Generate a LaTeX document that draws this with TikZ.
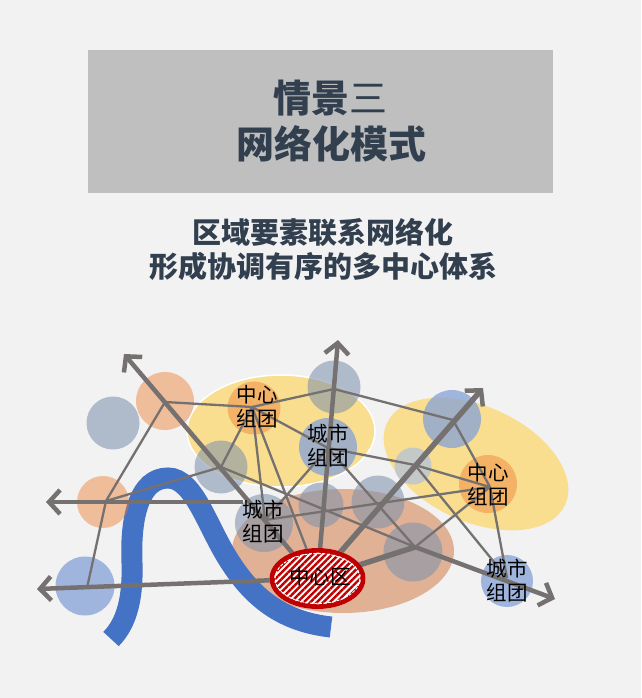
\documentclass[tikz,border=0pt]{standalone}
\usepackage{fontspec}
\setmainfont{Noto Sans CJK SC}
\usetikzlibrary{arrows.meta}
\usetikzlibrary{patterns.meta}
\usetikzlibrary{shapes.geometric}
\definecolor{pagegray}{HTML}{F2F2F2}
\definecolor{bannergray}{HTML}{BFBFBF}
\definecolor{titleink}{HTML}{323F4F}
\definecolor{linkgray}{HTML}{767171}
\definecolor{zoneyellow}{HTML}{F9DE90}
\definecolor{zonebrown}{HTML}{E0B195}
\definecolor{riverblue}{HTML}{4472C4}
\definecolor{slate}{HTML}{7C91AC}
\definecolor{paleslate}{HTML}{BFC7CE}
\definecolor{sky}{HTML}{85A1D7}
\definecolor{peach}{HTML}{ED7D31}
\definecolor{corered}{HTML}{C00000}
\tikzset{
  spot/.style={circle,inner sep=0pt,fill opacity=0.56,minimum size=#1},
  slatespot/.style={spot=#1,fill=slate},
  skyspot/.style={spot=#1,fill=sky,fill opacity=0.75},
  peachspot/.style={spot=#1,fill=peach,fill opacity=0.45},
  axisline/.style={line width=4.5pt,draw=linkgray,-{Straight Barb[length=11pt,width=24pt,line width=4.5pt]}},
  thinlink/.style={line width=2.3pt,draw=linkgray},
  citytext/.style={align=center,text=black,font=\fontsize{20.5}{24}\selectfont},
  heading/.style={align=center,text=titleink,font=\fontsize{#1}{46}\selectfont\bfseries}
}
\begin{document}
\begin{tikzpicture}[x=1pt,y=-1pt]
\useasboundingbox (0,0) rectangle (641,698);
\fill[pagegray] (0,0) rectangle (641,698);
\fill[bannergray] (88,50) rectangle (553,193);

\node [heading=38] (title1) at (330,98) {情景{\mdseries 三}};
\node [heading=38] (title2) at (331,144) {网络化模式};
\node [heading=29] (sub1) at (323,232) {区域要素联系网络化};
\node [heading=29] (sub2) at (323,266) {形成协调有序的多中心体系};

% zones
\fill[zonebrown] (343,551) ellipse [x radius=111,y radius=62];
\draw[fill=zoneyellow,draw=white,line width=1.5pt] (281,431) ellipse [x radius=94,y radius=56];
\fill[zoneyellow,rotate around={-24.5:(476,464)}] (476,464) ellipse [x radius=98,y radius=57.6];

% river
\draw[riverblue,line width=21pt] (111,639) .. controls (128,622) and (133,595) .. (132,563)
  .. controls (130,515) and (140,478) .. (168,478)
  .. controls (195,478) and (208,530) .. (232,565)
  .. controls (255,600) and (285,622) .. (331,627);

% circles
\node [slatespot=53] (s1) at (113,423) {};
\node [peachspot=58] (s2) at (165,401) {};
\node [peachspot=52] (s3) at (103,502) {};
\node [skyspot=59] (s4) at (85,586) {};
\node [peachspot=53] (s5) at (254,408) {};
\node [slatespot=53] (s6) at (221,467) {};
\node [slatespot=53] (s7) at (334,387) {};
\node [skyspot=58] (s8) at (328,447) {};
\node [slatespot=45] (s9) at (321,505) {};
\node [slatespot=53] (s10) at (378,502) {};
\node [slatespot=59] (s11) at (413,552) {};
\node [slatespot=58] (s12) at (264,523) {};
\node [skyspot=58] (s13) at (452,419) {};
\node [spot=37,fill=paleslate,fill opacity=0.9] (s14) at (413,466) {};
\node [peachspot=58] (s15) at (488,484) {};
\node [skyspot=52] (s16) at (507,581) {};

% meeting points of the links
\coordinate (a) at (165,402);
\coordinate (b) at (106,501);
\coordinate (c) at (87,588);
\coordinate (d) at (252,407);
\coordinate (e) at (221,467);
\coordinate (f) at (334,389);
\coordinate (g) at (328,448);
\coordinate (h) at (265,520);
\coordinate (j) at (415,547);
\coordinate (k) at (453,420);
\coordinate (l) at (415,465);
\coordinate (m) at (490,487);
\coordinate (n) at (507,578);
\coordinate (dhub) at (307,550);

\draw[thinlink] (a) -- (b);
\draw[thinlink] (b) -- (c);
\draw[thinlink] (a) -- (d);
\draw[thinlink] (b) -- (e);
\draw[thinlink] (d) -- (e);
\draw[thinlink] (d) -- (f);
\draw[thinlink] (d) -- (g);
\draw[thinlink] (d) -- (h);
\draw[thinlink] (d) -- (dhub);
\draw[thinlink] (f) -- (k);
\draw[thinlink] (e) -- (j);
\draw[thinlink] (h) -- (m);
\draw[thinlink] (h) -- (g);
\draw[thinlink] (g) -- (l);
\draw[thinlink] (l) -- (m);
\draw[thinlink] (g) -- (j);
\draw[thinlink] (l) -- (n);
\draw[thinlink] (k) -- (m);
\draw[thinlink] (m) -- (n);
\draw[thinlink] (m) -- (j);

% axes out of the core
\coordinate (tipnw) at (124,354);
\coordinate (tipw) at (46,502);
\coordinate (tipsw) at (37,589);
\coordinate (tipn) at (338,340);
\coordinate (tipne) at (483,388);
\coordinate (tipse) at (555,599);
\coordinate (startw) at (243,502);
\coordinate (startnw) at (300,562);

\node [ellipse,inner sep=0pt,minimum width=93pt,minimum height=57pt] (core) at (317.5,578.5) {};
\draw[axisline] (startnw) -- (tipnw);
\draw[axisline] (startw) -- (tipw);
\draw[axisline] (core.center) -- (tipsw);
\draw[axisline] (core.center) -- (tipn);
\draw[axisline,line width=5.5pt] (core.center) -- (tipne);
\draw[line width=5.5pt,draw=linkgray] (core.center) -- (j);
\draw[axisline] (j) -- (tipse);

% core district
\fill[white] (core.center) ellipse [x radius=48,y radius=30.5];
\fill[pattern={Lines[angle=45,distance=4.6pt,line width=2.4pt]},pattern color=corered]
  (core.center) ellipse [x radius=46,y radius=28.5];
\draw[white,line width=1pt,dash pattern=on 3pt off 1.5pt] (core.center) ellipse [x radius=42.5,y radius=25];
\draw[corered,line width=4.6pt] (core.center) ellipse [x radius=45.7,y radius=28.2];

\node [citytext] (t1) at (257,407) {中心\\组团};
\node [citytext] (t2) at (328,446) {城市\\组团};
\node [citytext] (t3) at (263,522) {城市\\组团};
\node [citytext] (t4) at (488,485) {中心\\组团};
\node [citytext] (t5) at (507,581) {城市\\组团};
\node [citytext] (t6) at (320,577) {中心区};
\end{tikzpicture}
\end{document}
